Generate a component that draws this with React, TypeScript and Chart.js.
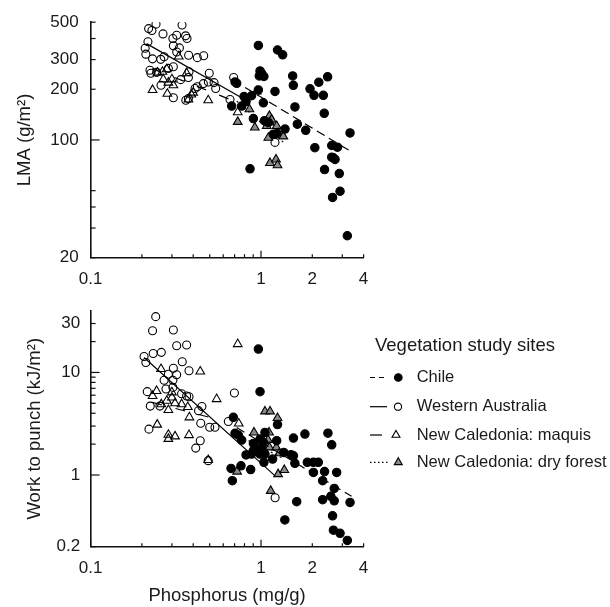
import React, { useEffect, useRef } from 'react';
import { Chart, registerables } from 'chart.js';
import { drawPoint } from 'chart.js/helpers';
Chart.register(...registerables);

const FONT = "'Liberation Sans', Arial, Helvetica, sans-serif";
const TEXT = '#1a1a1a';

// ---- axis ticks ----
const xTickValues = [0.1, 0.2, 0.3, 0.4, 0.5, 0.6, 0.7, 0.8, 0.9, 1, 2, 3, 4];
const xTickLabels = [0.1, 1, 2, 4];
const lmaTickValues = [20, 30, 40, 50, 100, 200, 300, 400, 500];
const lmaTickLabels = [20, 100, 200, 300, 500];
const wtpTickValues = [0.2, 1, 2, 3, 4, 5, 6, 7, 8, 9, 10, 20, 30];
const wtpTickLabels = [0.2, 1, 10, 30];

const siteNames = ['Chile', 'Western Australia', 'New Caledonia: maquis', 'New Caledonia: dry forest'];
const legendTitle = 'Vegetation study sites';

// ---- LMA panel: [phosphorus mg/g, LMA g/m2] ----
const chileLMA = [
  [0.965, 364], [1.25, 342], [1.34, 320], [0.987, 257], [1.01, 248], [1.04, 238], [0.977, 240],
  [0.704, 221], [0.72, 217], [0.965, 198], [1.208, 194], [1.534, 240], [1.548, 211], [1.939, 201],
  [2.047, 184], [2.183, 220], [2.46, 237], [2.322, 184], [2.35, 144], [0.795, 181], [0.817, 169],
  [0.88, 183], [1.032, 166], [0.673, 159], [0.77, 159], [0.902, 134], [1.046, 130], [1.104, 127],
  [1.582, 157], [1.634, 124], [1.83, 114], [1.383, 116], [1.236, 109], [1.18, 108], [2.07, 90],
  [2.6, 92.7], [2.81, 90.6], [3.33, 110], [2.66, 78.3], [2.72, 76.6], [2.6, 79], [0.862, 67.4],
  [2.36, 66.7], [2.88, 63.2], [2.91, 49.6], [2.63, 45.6], [3.21, 27],
];
const waLMA = [
  [0.219, 458], [0.229, 446], [0.242, 487], [0.266, 426], [0.344, 481], [0.32, 418], [0.304, 400],
  [0.361, 415], [0.368, 400], [0.217, 383], [0.209, 350], [0.211, 323], [0.306, 362], [0.332, 352],
  [0.32, 333], [0.376, 318], [0.231, 303], [0.258, 301], [0.27, 312], [0.423, 308], [0.461, 316],
  [0.223, 259], [0.226, 249], [0.244, 252], [0.286, 266], [0.306, 272], [0.497, 249], [0.378, 254],
  [0.375, 235], [0.338, 228], [0.259, 211], [0.306, 178], [0.362, 172], [0.375, 176], [0.41, 202],
  [0.423, 207], [0.459, 216], [0.491, 221], [0.53, 219], [0.542, 202], [0.658, 174], [0.691, 235],
  [1.208, 96.7],
];
const maquisLMA = [
  [0.231, 198], [0.282, 188], [0.247, 251], [0.264, 254], [0.28, 263], [0.329, 313], [0.3, 229],
  [0.306, 211], [0.366, 249], [0.375, 174], [0.39, 186], [0.4, 191], [0.49, 172], [0.73, 146],
  [0.267, 229], [0.286, 219],
];
const dryLMA = [
  [0.73, 128], [0.855, 152], [0.943, 194], [0.92, 118.5], [1.08, 121], [1.104, 103], [1.12, 139],
  [1.129, 127], [1.155, 132], [1.236, 121], [1.264, 110], [1.352, 105], [1.129, 73], [1.225, 76.6],
  [1.25, 70.8],
];
const chileLMAFit = [[0.806, 205], [3.33, 86]];
const waLMAFit = [[0.213, 373], [0.77, 178]];
const maquisLMAFit = [[0.23, 265], [0.75, 165]];
const dryLMAFit = [[0.72, 170], [1.35, 97]];

// ---- Work to punch panel: [phosphorus mg/g, kJ/m2] ----
const chileWTP = [
  [0.965, 16.9], [0.987, 6.5], [0.688, 3.65], [0.704, 2.55], [0.736, 2.45], [0.77, 2.19], [1.055, 2.6],
  [1.236, 2.16], [0.902, 2.03], [0.987, 2.24], [1.032, 2.08], [1.01, 1.86], [0.943, 1.79], [0.902, 1.73],
  [0.88, 1.6], [0.817, 1.57], [0.987, 1.6], [1.055, 1.6], [1.17, 1.43], [1.36, 1.66], [1.5, 1.58],
  [1.55, 1.54], [1.58, 1.3], [1.04, 1.33], [1.87, 1.33], [2.03, 1.33], [2.17, 1.33], [1.55, 2.29],
  [1.81, 2.51], [2.47, 2.56], [2.6, 1.97], [1.25, 3.1], [0.667, 1.16], [0.763, 1.23], [0.87, 1.13],
  [0.679, 0.88], [2.03, 1.06], [2.36, 1.08], [2.78, 1.06], [2.3, 0.88], [2.69, 0.74], [1.62, 0.55],
  [2.3, 0.575], [2.57, 0.62], [2.69, 0.56], [3.33, 0.54], [1.38, 0.365], [2.63, 0.4], [2.66, 0.29],
  [2.91, 0.27], [3.21, 0.23],
];
const waWTP = [
  [0.241, 35], [0.231, 25.5], [0.306, 25.9], [0.32, 18.2], [0.366, 18.5], [0.233, 15.3], [0.26, 15.7],
  [0.206, 14.3], [0.211, 12.5], [0.345, 12.7], [0.306, 11.0], [0.286, 9.6], [0.32, 9.5], [0.378, 10.4],
  [0.27, 8.4], [0.304, 8.4], [0.277, 6.9], [0.304, 7.15], [0.215, 6.5], [0.224, 4.7], [0.255, 4.7],
  [0.342, 6.2], [0.366, 5.9], [0.378, 5.8], [0.43, 4.24], [0.45, 4.65], [0.698, 6.3], [0.643, 3.33],
  [0.443, 3.2], [0.5, 2.92], [0.537, 2.92], [0.22, 2.8], [0.44, 2.16], [0.414, 1.83], [0.49, 1.38],
  [1.21, 0.6],
];
const maquisWTP = [
  [0.259, 10.8], [0.44, 10.2], [0.231, 5.9], [0.244, 6.6], [0.549, 5.5], [0.3, 6.4], [0.3, 5.7],
  [0.286, 4.3], [0.313, 5.0], [0.342, 4.9], [0.372, 4.6], [0.38, 3.65], [0.246, 3.1], [0.286, 2.47],
  [0.286, 2.25], [0.313, 2.38], [0.378, 2.45], [0.49, 1.4], [0.73, 18.9], [0.74, 3.18], [0.26, 4.9],
  [0.28, 5.3],
];
const dryWTP = [
  [1.055, 4.17], [1.13, 4.17], [1.25, 3.6], [0.91, 2.6], [1.115, 2.6], [1.1, 2.2], [1.12, 1.86],
  [1.23, 1.86], [1.28, 1.63], [1.26, 1.02], [1.37, 1.12], [0.724, 1.08], [1.14, 0.7], [1.03, 2.16],
];
const chileWTPFit = [[0.72, 2.9], [3.4, 0.62]];
const waWTPFit = [[0.206, 14], [1.21, 0.98]];
const maquisWTPFit = [[0.23, 5.1], [0.55, 3.5]];
const dryWTPFit = [[0.75, 2.4], [1.35, 1.45]];

// ---- styles ----
const GRAY = '#8a8a8a';
const siteStyles = [
  { marker: 'circle', fill: '#000', radius: 4.2, dash: [9, 5], legendDash: [5, 4], legendLen: 18, markerX: 398.3 },
  { marker: 'circle', fill: 'rgba(0,0,0,0)', radius: 4.0, dash: [], legendDash: [], legendLen: 17, markerX: 398 },
  { marker: 'triangle', fill: 'rgba(0,0,0,0)', radius: 5.0, dash: [10, 14], legendDash: [], legendLen: 12, markerX: 396 },
  { marker: 'triangle', fill: GRAY, radius: 5.0, dash: [2, 3], legendDash: [1.5, 2.5], legendLen: 18, markerX: 398.3 },
];

const toXY = (arr: number[][]) => arr.map(([x, y]) => ({ x, y }));

function buildDatasets(points: number[][][], fits: number[][][]) {
  const ds: any[] = [];
  fits.forEach((f, i) => {
    ds.push({
      label: siteNames[i] + ' fit',
      data: toXY(f),
      showLine: true,
      pointRadius: 0,
      borderColor: '#000',
      borderWidth: 1.2,
      borderDash: siteStyles[i].dash,
      fill: false,
    });
  });
  points.forEach((p, i) => {
    const st = siteStyles[i];
    ds.push({
      label: siteNames[i],
      data: toXY(p),
      showLine: false,
      pointStyle: st.marker,
      pointRadius: st.radius,
      pointBackgroundColor: st.fill,
      pointBorderColor: '#000',
      pointBorderWidth: 1.1,
    });
  });
  return ds;
}

const isPow10 = (v: number) => Math.abs(Math.log10(v) - Math.round(Math.log10(v))) < 1e-6;
const fmt = (v: number) => String(v);

const inwardTicks = {
  id: 'inwardTicks',
  afterDraw(chart: any) {
    const { ctx } = chart;
    const xs = chart.scales.x;
    const ys = chart.scales.y;
    ctx.save();
    ctx.strokeStyle = '#111';
    ctx.lineWidth = 1.2;
    xs.ticks.forEach((t: any) => {
      const px = xs.getPixelForValue(t.value);
      const len = isPow10(t.value) ? 7 : 3.5;
      ctx.beginPath();
      ctx.moveTo(px, xs.top);
      ctx.lineTo(px, xs.top - len);
      ctx.stroke();
    });
    ys.ticks.forEach((t: any) => {
      const py = ys.getPixelForValue(t.value);
      const len = isPow10(t.value) ? 9 : 5;
      ctx.beginPath();
      ctx.moveTo(ys.right, py);
      ctx.lineTo(ys.right + len, py);
      ctx.stroke();
    });
    ctx.restore();
  },
};

const siteLegend = {
  id: 'siteLegend',
  afterDraw(chart: any) {
    const { ctx } = chart;
    ctx.save();
    ctx.textBaseline = 'middle';
    ctx.textAlign = 'left';
    ctx.fillStyle = TEXT;
    ctx.font = `18.5px ${FONT}`;
    ctx.fillText(legendTitle, 375, 55.5);
    const rows = [87.5, 116.7, 145, 172.3];
    siteNames.forEach((name, i) => {
      const st = siteStyles[i];
      const y = rows[i];
      ctx.strokeStyle = '#000';
      ctx.lineWidth = 1.2;
      ctx.setLineDash(st.legendDash);
      ctx.beginPath();
      ctx.moveTo(370, y);
      ctx.lineTo(370 + st.legendLen, y);
      ctx.stroke();
      ctx.setLineDash([]);
      ctx.fillStyle = st.fill;
      ctx.strokeStyle = '#000';
      ctx.lineWidth = 1.1;
      drawPoint(ctx, { pointStyle: st.marker, radius: st.radius - 0.4, borderWidth: 1.1, rotation: 0 } as any, st.markerX, y);
      ctx.fillStyle = TEXT;
      ctx.font = `16.5px ${FONT}`;
      ctx.fillText(name, 416.7, y);
    });
    ctx.restore();
  },
};

function makeOptions(cfg: {
  yMin: number; yMax: number; yTicks: number[]; yLabels: number[]; yTitle: string; yTitlePad: number;
  yLabelPad: number; xTitle?: string; xHeight: number; padTop: number; padBottom: number;
}) {
  return {
    animation: false as const,
    responsive: false,
    devicePixelRatio: 1,
    layout: { padding: { left: 0, right: 246.4, top: cfg.padTop, bottom: cfg.padBottom } },
    plugins: { legend: { display: false }, tooltip: { enabled: false } },
    scales: {
      x: {
        type: 'logarithmic' as const,
        min: 0.1,
        max: 4,
        afterBuildTicks: (s: any) => { s.ticks = xTickValues.map((v) => ({ value: v })); },
        afterFit: (s: any) => { s.height = cfg.xHeight; },
        ticks: {
          autoSkip: false,
          maxRotation: 0,
          padding: 11.5,
          color: TEXT,
          font: { family: FONT, size: 17 },
          callback: (v: any) => (xTickLabels.some((l) => Math.abs(l - v) < 1e-9) ? fmt(Number(v)) : ''),
        },
        grid: { display: true, drawOnChartArea: false, drawTicks: false },
        border: { display: true, color: '#111', width: 1.6 },
        title: cfg.xTitle
          ? { display: true, text: cfg.xTitle, color: TEXT, font: { family: FONT, size: 18.5 }, padding: { top: 0, bottom: 0 } }
          : { display: false },
      },
      y: {
        type: 'logarithmic' as const,
        min: cfg.yMin,
        max: cfg.yMax,
        afterBuildTicks: (s: any) => { s.ticks = cfg.yTicks.map((v) => ({ value: v })); },
        afterFit: (s: any) => { s.width = 90.6; },
        ticks: {
          autoSkip: false,
          padding: cfg.yLabelPad,
          color: TEXT,
          font: { family: FONT, size: 17 },
          callback: (v: any) => (cfg.yLabels.some((l) => Math.abs(l - v) < 1e-9) ? fmt(Number(v)) : ''),
        },
        grid: { display: true, drawOnChartArea: false, drawTicks: false },
        border: { display: true, color: '#111', width: 1.6 },
        title: { display: true, text: cfg.yTitle, color: TEXT, font: { family: FONT, size: 18.5 }, padding: { top: cfg.yTitlePad, bottom: 0 } },
      },
    },
  };
}

export default function App() {
  const topRef = useRef<HTMLCanvasElement>(null);
  const botRef = useRef<HTMLCanvasElement>(null);

  useEffect(() => {
    const top = new Chart(topRef.current as HTMLCanvasElement, {
      type: 'scatter',
      data: { datasets: buildDatasets([chileLMA, waLMA, maquisLMA, dryLMA], [chileLMAFit, waLMAFit, maquisLMAFit, dryLMAFit]) },
      options: makeOptions({
        yMin: 20, yMax: 500, yTicks: lmaTickValues, yLabels: lmaTickLabels, yTitle: 'LMA (g/m²)', yTitlePad: 14,
        yLabelPad: 12, xHeight: 32.3, padTop: 21.5, padBottom: 0,
      }) as any,
      plugins: [inwardTicks],
    });
    const bot = new Chart(botRef.current as HTMLCanvasElement, {
      type: 'scatter',
      data: { datasets: buildDatasets([chileWTP, waWTP, maquisWTP, dryWTP], [chileWTPFit, waWTPFit, maquisWTPFit, dryWTPFit]) },
      options: makeOptions({
        yMin: 0.2, yMax: 40, yTicks: wtpTickValues, yLabels: wtpTickLabels, yTitle: 'Work to punch (kJ/m²)', yTitlePad: 24,
        yLabelPad: 10.5, xTitle: 'Phosphorus (mg/g)', xHeight: 60, padTop: 20, padBottom: 0.3,
      }) as any,
      plugins: [inwardTicks, siteLegend],
    });
    return () => { top.destroy(); bot.destroy(); };
  }, []);

  return (
    <div style={{ position: 'absolute', left: 0, top: 0, width: 610, height: 607, background: '#fff' }}>
      <canvas ref={topRef} width={610} height={290} style={{ position: 'absolute', left: 0, top: 0, width: 610, height: 290 }} />
      <canvas ref={botRef} width={610} height={317} style={{ position: 'absolute', left: 0, top: 290, width: 610, height: 317 }} />
    </div>
  );
}
